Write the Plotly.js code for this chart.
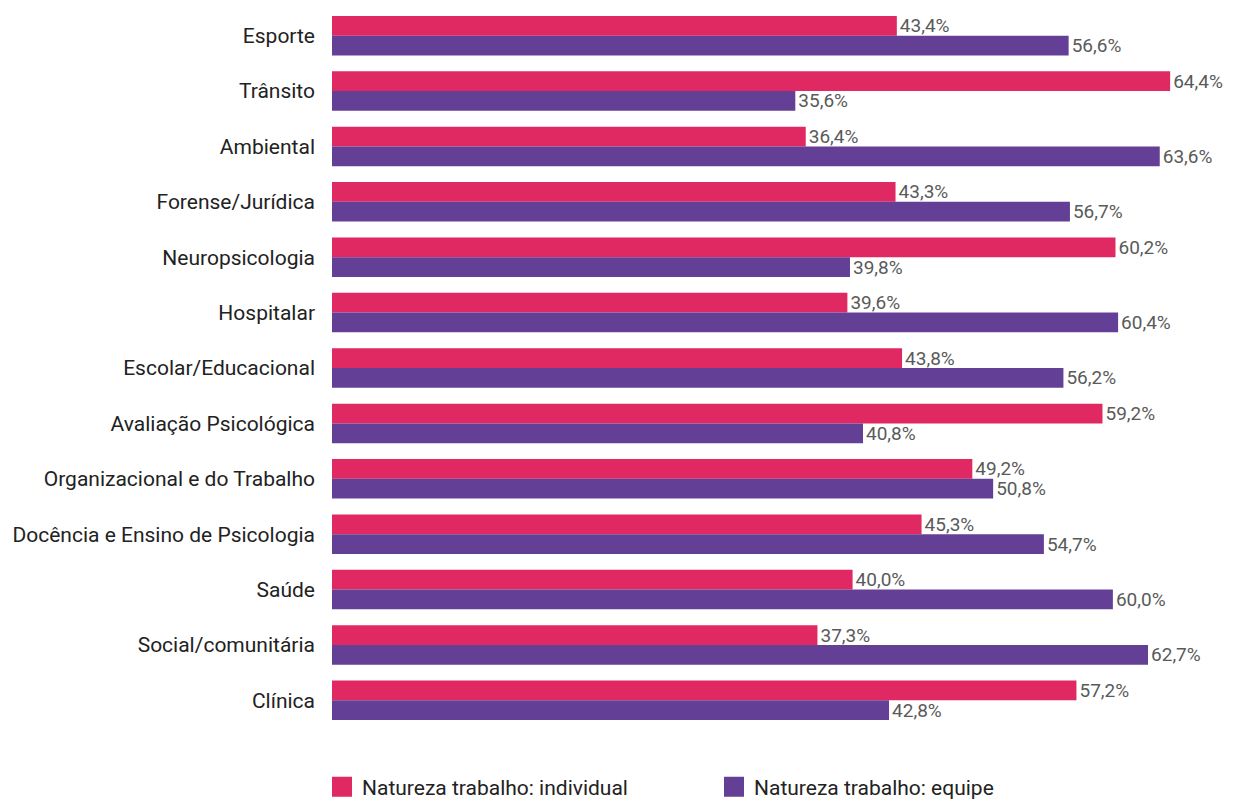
<!DOCTYPE html>
<html>
<head>
<meta charset="utf-8">
<script src="https://cdn.plot.ly/plotly-3.0.1.min.js"></script>
<style>html,body{margin:0;padding:0;background:#fff;}#chart{width:1236px;height:800px;}</style>
</head>
<body>
<div id="chart"></div>
<script>
const categories = ["Esporte","Trânsito","Ambiental","Forense/Jurídica","Neuropsicologia","Hospitalar","Escolar/Educacional","Avaliação Psicológica","Organizacional e do Trabalho","Docência e Ensino de Psicologia","Saúde","Social/comunitária","Clínica"];
const individual = [43.4,64.4,36.4,43.3,60.2,39.6,43.8,59.2,49.2,45.3,40.0,37.3,57.2];
const equipe = [56.6,35.6,63.6,56.7,39.8,60.4,56.2,40.8,50.8,54.7,60.0,62.7,42.8];
const seriesNames = ["Natureza trabalho: individual","Natureza trabalho: equipe"];
const seriesColors = ["#E02862","#643F96"];

const font = "Roboto, 'Liberation Sans', sans-serif";
const labelFont = {family: font, size: 19, color: "#5a5a5a"};

const data = [
  {type:"bar", orientation:"h", name:seriesNames[0], y:categories, x:individual, showlegend:false,
   marker:{color:seriesColors[0]}, texttemplate:"%{x:.1f}%", textposition:"outside",
   textfont:labelFont, cliponaxis:false, constraintext:"none", hoverinfo:"skip"},
  {type:"bar", orientation:"h", name:seriesNames[1], y:categories, x:equipe, showlegend:false,
   marker:{color:seriesColors[1]}, texttemplate:"%{x:.1f}%", textposition:"outside",
   textfont:labelFont, cliponaxis:false, constraintext:"none", hoverinfo:"skip"},
  {type:"scatter", mode:"markers", name:seriesNames[0], x:[null], y:[null],
   marker:{symbol:"square", size:16, color:seriesColors[0], line:{width:4, color:seriesColors[0]}}, hoverinfo:"skip"},
  {type:"scatter", mode:"markers", name:seriesNames[1], x:[null], y:[null],
   marker:{symbol:"square", size:16, color:seriesColors[1], line:{width:4, color:seriesColors[1]}}, hoverinfo:"skip"}
];

const layout = {
  width:1236, height:800,
  margin:{l:332, r:19, t:8, b:72},
  paper_bgcolor:"#fff", plot_bgcolor:"#fff",
  separators:",.",
  barmode:"group", bargap:0.287, bargroupgap:0,
  font:{family:font, color:"#222"},
  xaxis:{range:[0,68], visible:false, showgrid:false, zeroline:false, fixedrange:true},
  yaxis:{autorange:"reversed", showgrid:false, zeroline:false, showline:false, ticks:"",
         ticklabelstandoff:16, tickfont:{family:font, size:21, color:"#222"}, automargin:false},
  showlegend:true,
  legend:{orientation:"h", xref:"container", x:0.2605, xanchor:"left", yref:"container", y:0.016, yanchor:"middle",
          font:{family:font, size:21, color:"#222"}, entrywidth:347, entrywidthmode:"pixels",
          itemsizing:"trace", traceorder:"normal"}
};

Plotly.newPlot("chart", data, layout, {displayModeBar:false, staticPlot:true});
</script>
</body>
</html>
